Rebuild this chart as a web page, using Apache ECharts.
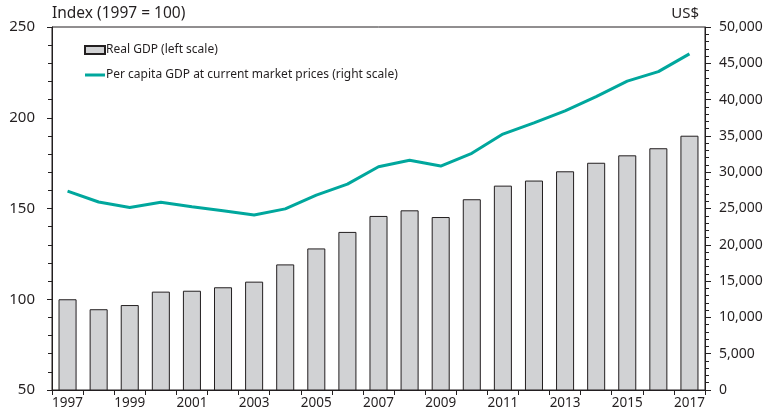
<!DOCTYPE html>
<html>
<head>
<meta charset="utf-8">
<script src="https://cdn.jsdelivr.net/npm/echarts@6/dist/echarts.min.js"></script>
<style>
  html, body { margin: 0; padding: 0; background: #fff; }
  #chart { width: 767px; height: 412px; }
</style>
</head>
<body>
<div id="chart"></div>
<script>
var years = ['1997', '1998', '1999', '2000', '2001', '2002', '2003', '2004', '2005', '2006', '2007',
  '2008', '2009', '2010', '2011', '2012', '2013', '2014', '2015', '2016', '2017']
// Real GDP index, 1997 = 100 (left scale)
var realGdp = [100, 94.5, 96.8, 104.2, 104.7, 106.6, 109.7, 119.2, 128, 137.1, 145.9,
  149, 145.3, 155.1, 162.6, 165.4, 170.5, 175.2, 179.3, 183.2, 190.1]
// per capita GDP, US$ (right scale)
var perCapita = [27400, 25900, 25150, 25850, 25250, 24700, 24100, 24950, 26850, 28350, 30750,
  31650, 30850, 32600, 35250, 36800, 38450, 40400, 42550, 43850, 46300]

var font = 'Noto Sans'
var ink = '#231f20'
var teal = '#00a79d'

var chart = echarts.init(document.getElementById('chart'))

chart.setOption({
  animation: false,
  textStyle: { fontFamily: font },
  grid: {
    left: 52, right: 62, top: 27, bottom: 22,
    show: true, borderColor: ink, borderWidth: 1
  },
  legend: {
    orient: 'vertical',
    left: 79, top: 39,
    itemWidth: 20, itemHeight: 8, itemGap: 13,
    symbolKeepAspect: true,
    textStyle: { fontFamily: font, fontSize: 12, color: ink, padding: [0, 0, 0, -4] },
    data: [
      { name: 'Real GDP (left scale)', icon: 'rect' },
      { name: 'Per capita GDP at current market prices (right scale)', icon: 'path://M0,0 L20,0 L20,3 L0,3 Z' }
    ]
  },
  graphic: [
    { type: 'text', left: 52, top: 6, style: { text: 'Index (1997 = 100)', font: '15.5px "Noto Sans"', fill: ink } },
    { type: 'text', right: 68, top: 6, style: { text: 'US$', font: '15px "Noto Sans"', fill: ink } }
  ],
  xAxis: {
    type: 'category',
    data: years,
    axisLine: { lineStyle: { color: ink } },
    axisTick: { show: true, interval: 0, length: 5, lineStyle: { color: ink } },
    axisLabel: { interval: 1, color: ink, fontSize: 13.5, margin: 6 }
  },
  yAxis: [{
    type: 'value',
    min: 50, max: 250, interval: 50,
    axisLine: { show: true, lineStyle: { color: ink } },
    axisTick: { show: true, length: 5, lineStyle: { color: ink } },
    minorTick: { show: true, splitNumber: 5, length: 4, lineStyle: { color: ink } },
    splitLine: { show: false },
    axisLabel: { color: ink, fontSize: 15, margin: 17 }
  }, {
    type: 'value',
    position: 'right',
    min: 0, max: 50000, interval: 5000,
    axisLine: { show: true, lineStyle: { color: ink } },
    axisTick: { show: true, length: 6, lineStyle: { color: ink } },
    minorTick: { show: true, splitNumber: 5, length: 4, lineStyle: { color: ink } },
    splitLine: { show: false },
    axisLabel: {
      color: ink, fontSize: 14, margin: 14,
      formatter: function (v) { return v.toLocaleString('en-US') }
    }
  }],
  series: [{
    name: 'Real GDP (left scale)',
    type: 'bar',
    yAxisIndex: 0,
    barWidth: '58%',
    data: realGdp,
    itemStyle: { color: '#d1d2d4', borderColor: ink, borderWidth: 1 }
  }, {
    name: 'Per capita GDP at current market prices (right scale)',
    type: 'line',
    yAxisIndex: 1,
    symbol: 'none',
    data: perCapita,
    lineStyle: { color: teal, width: 3 },
    itemStyle: { color: teal }
  }]
})
</script>
</body>
</html>
